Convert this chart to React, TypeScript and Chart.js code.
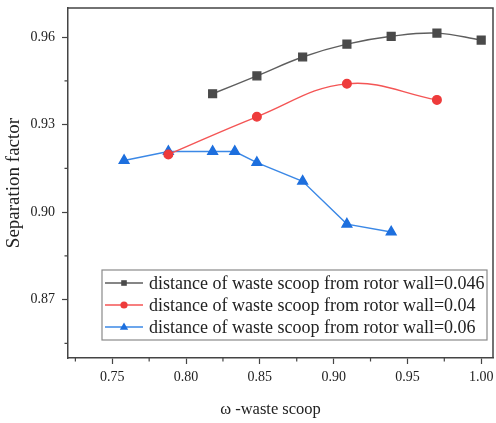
import React, { useEffect, useRef } from 'react';
import { Chart, registerables } from 'chart.js';

Chart.register(...registerables);

const xTickValues = [0.75, 0.8, 0.85, 0.9, 0.95, 1.0];
const yTickValues = [0.87, 0.9, 0.93, 0.96];

const xTitle = 'ω -waste scoop';
const yTitle = 'Separation factor';

const seriesLabels = [
  'distance of waste scoop from rotor wall=0.046',
  'distance of waste scoop from rotor wall=0.04',
  'distance of waste scoop from rotor wall=0.06',
];

const xBlack = [0.818, 0.848, 0.879, 0.909, 0.939, 0.97, 1.0];
const yBlack = [0.9406, 0.9467, 0.9532, 0.9576, 0.9603, 0.9614, 0.959];

const xRed = [0.788, 0.848, 0.909, 0.97];
const yRed = [0.9198, 0.9327, 0.944, 0.9385];

const xBlue = [0.758, 0.788, 0.818, 0.833, 0.848, 0.879, 0.909, 0.939];
const yBlue = [0.9177, 0.9208, 0.9208, 0.9208, 0.917, 0.9106, 0.8959, 0.8932];

const FONT = '"Liberation Serif", "Times New Roman", serif';
const TEXT = '#222';
const AXIS = '#444';

const toPoints = (xs: number[], ys: number[]) => xs.map((x, i) => ({ x, y: ys[i] }));

const framePlugin = {
  id: 'frame',
  afterDraw(chart: any) {
    const { ctx, chartArea: a } = chart;
    ctx.save();
    ctx.strokeStyle = AXIS;
    ctx.lineWidth = 1.5;
    ctx.beginPath();
    ctx.moveTo(a.left, a.top);
    ctx.lineTo(a.right, a.top);
    ctx.lineTo(a.right, a.bottom);
    ctx.stroke();
    // minor ticks
    ctx.lineWidth = 1.2;
    const xs = chart.scales.x;
    const ys = chart.scales.y;
    const xm: number[] = [];
    for (let i = -1; i < xTickValues.length; i++) {
      const a0 = i < 0 ? xTickValues[0] - 0.05 : xTickValues[i];
      const m = a0 + 0.025;
      if (m >= xs.min && m <= xs.max) xm.push(m);
    }
    const ym: number[] = [];
    for (let i = -1; i < yTickValues.length; i++) {
      const a0 = i < 0 ? yTickValues[0] - 0.03 : yTickValues[i];
      const m = a0 + 0.015;
      if (m >= ys.min && m <= ys.max) ym.push(m);
    }
    ctx.beginPath();
    xm.forEach((v) => {
      const px = xs.getPixelForValue(v);
      ctx.moveTo(px, a.bottom);
      ctx.lineTo(px, a.bottom + 3.5);
    });
    ym.forEach((v) => {
      const py = ys.getPixelForValue(v);
      ctx.moveTo(a.left, py);
      ctx.lineTo(a.left - 3.5, py);
    });
    ctx.stroke();
    // x axis title
    ctx.fillStyle = TEXT;
    ctx.font = `16.5px ${FONT}`;
    ctx.textAlign = 'center';
    ctx.textBaseline = 'middle';
    ctx.fillText(xTitle, (a.left + a.right) / 2 - 10, a.bottom + 52);
    ctx.restore();
  },
};

function drawMarker(ctx: CanvasRenderingContext2D, style: string, x: number, y: number, r: number) {
  ctx.beginPath();
  if (style === 'rect') {
    ctx.rect(x - r, y - r, 2 * r, 2 * r);
  } else if (style === 'circle') {
    ctx.arc(x, y, r, 0, Math.PI * 2);
  } else {
    ctx.moveTo(x, y - r);
    ctx.lineTo(x + r * 0.95, y + r * 0.65);
    ctx.lineTo(x - r * 0.95, y + r * 0.65);
    ctx.closePath();
  }
  ctx.fill();
}

const legendPlugin = {
  id: 'boxLegend',
  afterDraw(chart: any) {
    const { ctx, chartArea: a } = chart;
    const left = a.left + 34;
    const right = a.right - 6;
    const bottom = a.bottom - 18;
    const top = bottom - 70;
    ctx.save();
    ctx.fillStyle = '#fff';
    ctx.fillRect(left, top, right - left, bottom - top);
    ctx.strokeStyle = '#8a8a8a';
    ctx.lineWidth = 1.2;
    ctx.strokeRect(left, top, right - left, bottom - top);
    ctx.font = `18px ${FONT}`;
    ctx.textBaseline = 'middle';
    const sizes = [2.8, 3.6, 4.4];
    chart.data.datasets.forEach((ds: any, i: number) => {
      const cy = top + 13 + i * 22;
      ctx.strokeStyle = ds.borderColor;
      ctx.lineWidth = 1.3;
      ctx.beginPath();
      ctx.moveTo(left + 3, cy);
      ctx.lineTo(left + 41, cy);
      ctx.stroke();
      ctx.fillStyle = ds.pointBackgroundColor;
      drawMarker(ctx, ds.pointStyle, left + 22, cy, sizes[i]);
      ctx.fillStyle = TEXT;
      ctx.fillText(ds.label, left + 47, cy + 1);
    });
    ctx.restore();
  },
};

const zeroPad = (s: any) => {
  s.paddingLeft = 0;
  s.paddingRight = 0;
  s.paddingTop = 0;
  s.paddingBottom = 0;
};

export default function App() {
  const ref = useRef<HTMLCanvasElement | null>(null);
  useEffect(() => {
    if (!ref.current) return;
    const tickFont = { family: FONT, size: 14 };
    const chart = new Chart(ref.current, {
      type: 'line',
      data: {
        datasets: [
          {
            label: seriesLabels[0],
            data: toPoints(xBlack, yBlack),
            borderColor: '#5e5e5e',
            backgroundColor: '#4a4a4a',
            pointBackgroundColor: '#4a4a4a',
            pointBorderColor: '#4a4a4a',
            pointStyle: 'rect',
            pointRadius: 5.5,
            borderWidth: 1.4,
            tension: 0.4,
          },
          {
            label: seriesLabels[1],
            data: toPoints(xRed, yRed),
            borderColor: '#f45555',
            backgroundColor: '#ee3b3b',
            pointBackgroundColor: '#ee3b3b',
            pointBorderColor: '#ee3b3b',
            pointStyle: 'circle',
            pointRadius: 4.3,
            borderWidth: 1.4,
            tension: 0.4,
          },
          {
            label: seriesLabels[2],
            data: toPoints(xBlue, yBlue),
            borderColor: '#3b88e6',
            backgroundColor: '#1d6fde',
            pointBackgroundColor: '#1d6fde',
            pointBorderColor: '#1d6fde',
            pointStyle: 'triangle',
            pointRadius: 5.6,
            borderWidth: 1.4,
            tension: 0,
          },
        ] as any,
      },
      options: {
        animation: false,
        responsive: true,
        maintainAspectRatio: false,
        layout: { autoPadding: false, padding: { top: 8, right: 3, left: 0, bottom: 0 } },
        plugins: { legend: { display: false }, tooltip: { enabled: false } },
        scales: {
          x: {
            type: 'linear',
            min: 0.72,
            max: 1.008,
            afterBuildTicks: (s: any) => {
              s.ticks = xTickValues.map((v) => ({ value: v }));
            },
            afterFit: (s: any) => {
              s.height = 65;
              zeroPad(s);
            },
            ticks: {
              callback: (v: any) => Number(v).toFixed(2),
              font: tickFont,
              color: TEXT,
              padding: 5,
              maxRotation: 0,
              autoSkip: false,
            },
            grid: { drawOnChartArea: false, drawTicks: true, tickLength: 6, tickColor: AXIS, tickWidth: 1.2 },
            border: { display: true, color: AXIS, width: 1.5 },
            title: { display: false },
          },
          y: {
            type: 'linear',
            min: 0.85,
            max: 0.97,
            afterBuildTicks: (s: any) => {
              s.ticks = yTickValues.map((v) => ({ value: v }));
            },
            afterFit: (s: any) => {
              s.width = 68;
              zeroPad(s);
            },
            ticks: {
              callback: (v: any) => Number(v).toFixed(2),
              font: tickFont,
              color: TEXT,
              padding: 7,
              autoSkip: false,
            },
            grid: { drawOnChartArea: false, drawTicks: true, tickLength: 6, tickColor: AXIS, tickWidth: 1.2 },
            border: { display: true, color: AXIS, width: 1.5 },
            title: { display: true, text: yTitle, font: { family: FONT, size: 19 }, color: TEXT, padding: { top: 3, bottom: 0 } },
          },
        },
      } as any,
      plugins: [framePlugin, legendPlugin],
    });
    return () => chart.destroy();
  }, []);
  return (
    <div style={{ position: 'absolute', left: 0, top: 0, width: 496, height: 423, background: '#fff' }}>
      <canvas ref={ref} />
    </div>
  );
}
